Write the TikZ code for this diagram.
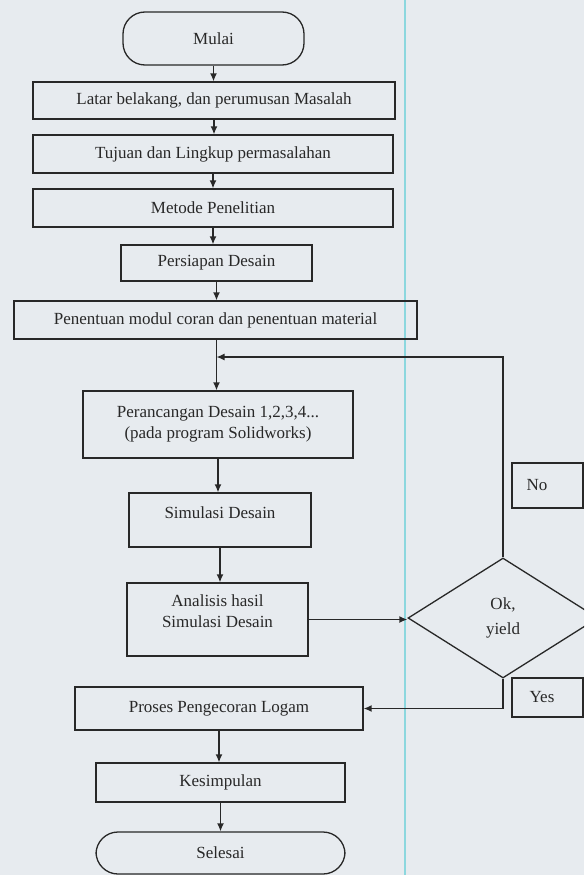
\documentclass[tikz,border=0pt]{standalone}
\usepackage{fontspec}
\setmainfont{Liberation Serif}
\usetikzlibrary{arrows.meta,shapes.geometric}
\definecolor{bgc}{RGB}{231,235,239}
\definecolor{cyanl}{RGB}{140,215,222}
\definecolor{ink}{RGB}{40,40,40}
\begin{document}
\begin{tikzpicture}[x=1pt,y=-1pt,
  box/.style={draw=ink, line width=1.3pt, rectangle, inner sep=0pt, font=\fontsize{17}{21}\selectfont, text=ink, align=center},
  term/.style={box, rounded corners=22pt},
  dec/.style={draw=ink, line width=1.3pt, diamond, inner sep=0pt, minimum width=190pt, minimum height=120pt, font=\fontsize{17}{25}\selectfont, text=ink, align=center},
  arr/.style={draw=ink, line width=1.4pt, -{Latex[length=8pt,width=7pt]}}]
\clip (0,0) rectangle (584,875);
\useasboundingbox (0,0) rectangle (584,875);
\fill[bgc] (0,0) rectangle (584,875);
\draw[cyanl, line width=2pt] (405,0) -- (405,875);

\node[term, minimum width=181pt, minimum height=53pt] (mulai) at (213.5,38.5) {Mulai};
\node[box, minimum width=362pt, minimum height=37pt] (latar) at (214,100.5) {Latar belakang, dan perumusan Masalah};
\node[box, minimum width=360pt, minimum height=38pt] (tujuan) at (213,154) {Tujuan dan Lingkup permasalahan};
\node[box, minimum width=360pt, minimum height=38pt] (metode) at (213,208) {Metode Penelitian};
\node[box, minimum width=191pt, minimum height=36pt] (persiapan) at (216.5,263) {Persiapan Desain};
\node[box, minimum width=403pt, minimum height=38pt] (penentuan) at (215.5,320) {Penentuan modul coran dan penentuan material};
\node[box, minimum width=270pt, minimum height=67pt] (rancang) at (218,424.5) {Perancangan Desain 1,2,3,4...\\(pada program Solidworks)};
\node[box, minimum width=182pt, minimum height=54pt, text depth=15pt] (simulasi) at (220,520) {Simulasi Desain};
\node[box, minimum width=181pt, minimum height=73pt, text depth=17pt] (analisis) at (217.5,619.5) {Analisis hasil\\Simulasi Desain};
\node[box, minimum width=288pt, minimum height=43pt] (proses) at (219,708.5) {Proses Pengecoran Logam};
\node[box, minimum width=249pt, minimum height=39pt] (kesimpulan) at (220.5,782.5) {Kesimpulan};
\node[term, minimum width=249pt, minimum height=42pt] (selesai) at (220.5,853) {Selesai};
\node[dec] (cek) at (503,618) {Ok,\\yield};
\node[box, minimum width=71pt, minimum height=45pt] (no) at (547.5,485.5) {No\hspace*{21pt}};
\node[box, minimum width=71pt, minimum height=39pt] (yes) at (547.5,697.5) {Yes\hspace*{11pt}};
\coordinate (lj) at (216.5,357);

\draw[arr] (mulai.south) -- (mulai.south |- latar.north);
\draw[arr] (latar.south) -- (latar.south |- tujuan.north);
\draw[arr] (tujuan.south) -- (tujuan.south |- metode.north);
\draw[arr] (metode.south) -- (metode.south |- persiapan.north);
\draw[arr] (persiapan.south) -- (persiapan.south |- penentuan.north);
\draw[arr] (lj |- penentuan.south) -- (lj |- rancang.north);
\draw[arr] (rancang.south) -- (rancang.south |- simulasi.north);
\draw[arr] (simulasi.south) -- (simulasi.south |- analisis.north);
\draw[arr] (analisis.east) -- (analisis.east -| cek.west);
\draw[arr] (cek.north) |- (lj);
\draw[arr] (cek.south) |- (proses.east);
\draw[arr] (proses.south) -- (proses.south |- kesimpulan.north);
\draw[arr] (kesimpulan.south) -- (kesimpulan.south |- selesai.north);
\end{tikzpicture}
\end{document}
